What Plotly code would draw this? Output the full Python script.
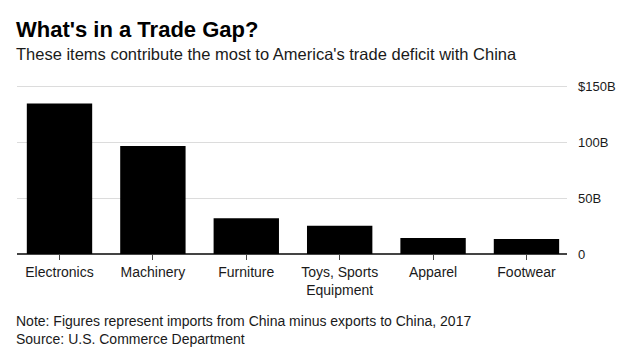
import plotly.graph_objects as go

categories = ["Electronics", "Machinery", "Furniture", "Toys, Sports<br>Equipment", "Apparel", "Footwear"]
values = [134.5, 96.5, 32.0, 25.3, 14.4, 13.5]
y_tickvals = [0, 50, 100, 150]
y_ticktext = ["0", "50B", "100B", "$150B"]

FONT = "Liberation Sans, Arial, sans-serif"

M_T, M_B = 85, 100
H = 354

fig = go.Figure()
fig.add_trace(go.Bar(x=categories, y=values, marker=dict(color="#000000", line=dict(width=0)),
                     hoverinfo="skip"))

fig.update_layout(
    width=630, height=H,
    margin=dict(l=17, r=63, t=M_T, b=M_B),
    paper_bgcolor="white", plot_bgcolor="white",
    bargap=0.3,
    showlegend=False,
    font=dict(family=FONT, color="#1a1a1a", size=13),
    xaxis=dict(
        type="category",
        range=[-0.455, 5.434],
        showgrid=False,
        ticks="outside", ticklen=5, tickwidth=1, tickcolor="#444444",
        showline=False,
        tickfont=dict(size=14, color="#1a1a1a"),
        fixedrange=True,
    ),
    yaxis=dict(
        range=[0, 151],
        side="right",
        tickvals=y_tickvals, ticktext=y_ticktext,
        showgrid=True, gridcolor="#dcdcdc", gridwidth=1,
        zeroline=True, zerolinecolor="#444444", zerolinewidth=1.5,
        ticks="", ticklabelstandoff=10,
        tickfont=dict(size=13, color="#1a1a1a"),
        fixedrange=True,
    ),
)

plot_h = H - M_T - M_B
def ypaper(px_from_top):
    return (H - M_B - px_from_top) / plot_h

texts = [
    ("<b>What's in a Trade Gap?</b>", 22, "#000000", 44),
    ("These items contribute the most to America's trade deficit with China", 16.5, "#1a1a1a", 65),
    ("Note: Figures represent imports from China minus exports to China, 2017", 14, "#1a1a1a", 331),
    ("Source: U.S. Commerce Department", 14, "#1a1a1a", 349),
]
for txt, size, color, py in texts:
    fig.add_annotation(text=txt, xref="paper", yref="paper", x=0, y=ypaper(py),
                       xanchor="left", yanchor="bottom", showarrow=False, xshift=-3,
                       font=dict(size=size, color=color, family=FONT))

fig.write_html("out.html")
